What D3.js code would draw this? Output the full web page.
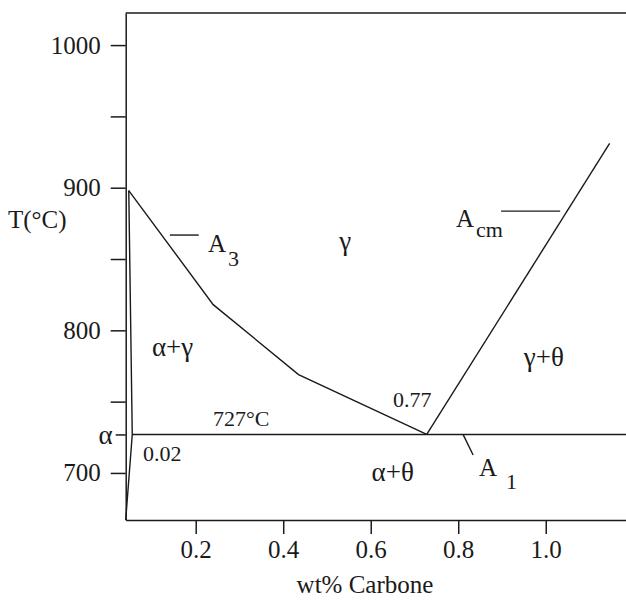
<!DOCTYPE html>
<html>
<head>
<meta charset="utf-8">
<script src="https://cdn.jsdelivr.net/npm/d3@7"></script>
<style>
  body { margin: 0; background: #fff; }
  text { font-family: "Liberation Serif", "Times New Roman", serif; fill: #1a1a1a; }
</style>
</head>
<body>
<div id="chart"></div>
<script>
// Fe-C diagram (steel corner)
var carbonRange = [0.04, 1.22];
var tempRange = [667, 1022.5];
var xTicks = [0.2, 0.4, 0.6, 0.8, 1.0];
var yTicks = [700, 750, 800, 850, 900, 950, 1000];
var yTickLabels = { 700: "700", 800: "800", 900: "900", 1000: "1000" };

var a3Carbon = [0.047, 0.24, 0.435, 0.728];
var a3Temp = [898, 818, 769, 727];
var acmCarbon = [0.728, 1.146];
var acmTemp = [727, 931];
var alphaCarbon = [0.047, 0.055, 0.04];
var alphaTemp = [898, 727, 667];
var eutectoidCarbon = [0.055, 1.22];
var eutectoidTemp = [727, 727];

// phase labels: [text, carbon, temp]
var phaseLabels = [
  ["γ", 0.528, 856],
  ["α+γ", 0.1, 782],
  ["727°C", 0.2395, 733],
  ["0.77", 0.651, 746],
  ["0.02", 0.0795, 708.4],
  ["γ+θ", 0.95, 775],
  ["α+θ", 0.602, 694.4]
];
// critical lines: [main, sub, carbon, temp, pointer from/to]
var critLabels = [
  { main: "A", sub: "3", c: 0.228, t: 855, dx: 2, dy: 14, p: [[0.141, 866.8], [0.207, 866.8]] },
  { main: "A", sub: "cm", c: 0.795, t: 872.4, dx: 2, dy: 10, p: [[0.898, 883.6], [1.033, 883.6]] },
  { main: "A", sub: "1", c: 0.8475, t: 698, dx: 9, dy: 13, p: [[0.811, 727], [0.834, 712.6]] }
];

var width = 626, height = 600;

var svg = d3.select("#chart")
  .append("svg")
  .attr("width", width)
  .attr("height", height);

var x = d3.scaleLinear()
  .domain(carbonRange)
  .range([125.7, 642]);

var y = d3.scaleLinear()
  .domain(tempRange)
  .range([520, 13]);

var ink = "#1a1a1a";

// axes
var xAxis = svg.append("g")
  .attr("transform", "translate(0," + y(tempRange[0]) + ")")
  .call(d3.axisBottom(x).tickValues(xTicks).tickFormat(d3.format(".1f"))
    .tickSize(14).tickSizeOuter(0).tickPadding(6));

var yAxis = svg.append("g")
  .attr("transform", "translate(" + x(carbonRange[0]) + ",0)")
  .call(d3.axisLeft(y).tickValues(yTicks)
    .tickFormat(function(d) { return yTickLabels[d] || ""; })
    .tickSize(15).tickSizeOuter(0).tickPadding(10));

// the alpha tick at the eutectoid temperature
var alphaAxis = svg.append("g")
  .attr("transform", "translate(" + x(carbonRange[0]) + ",0)")
  .call(d3.axisLeft(y).tickValues([727]).tickFormat(function() { return "α"; })
    .tickSize(10).tickPadding(3));
alphaAxis.select(".domain").remove();

svg.selectAll(".domain, .tick line")
  .attr("stroke", ink)
  .attr("stroke-width", 1.5);
svg.selectAll(".tick text")
  .attr("font-family", "Liberation Serif, Times New Roman, serif")
  .attr("font-size", 25)
  .attr("fill", ink);
alphaAxis.selectAll("text").attr("font-size", 27);

// top border
svg.append("line")
  .attr("x1", x(carbonRange[0])).attr("x2", x(carbonRange[1]))
  .attr("y1", y(tempRange[1])).attr("y2", y(tempRange[1]))
  .attr("stroke", ink).attr("stroke-width", 1.5);

// phase boundaries
var line = d3.line()
  .x(function(d) { return x(d[0]); })
  .y(function(d) { return y(d[1]); });

var curves = [
  d3.zip(a3Carbon, a3Temp),
  d3.zip(acmCarbon, acmTemp),
  d3.zip(alphaCarbon, alphaTemp),
  d3.zip(eutectoidCarbon, eutectoidTemp)
];

svg.selectAll(".boundary")
  .data(curves)
  .enter().append("path")
  .attr("class", "boundary")
  .attr("d", line)
  .attr("fill", "none")
  .attr("stroke", ink)
  .attr("stroke-width", 1.4);

// region labels
svg.selectAll(".phase")
  .data(phaseLabels)
  .enter().append("text")
  .attr("class", "phase")
  .attr("x", function(d) { return x(d[1]); })
  .attr("y", function(d) { return y(d[2]); })
  .attr("font-size", function(d) { return /\d/.test(d[0]) ? 22 : 27; })
  .text(function(d) { return d[0]; });

// A3, Acm, A1 with their pointers
critLabels.forEach(function(d) {
  svg.append("path")
    .attr("d", line(d.p))
    .attr("stroke", ink)
    .attr("stroke-width", 1.4);

  var t = svg.append("text")
    .attr("x", x(d.c))
    .attr("y", y(d.t))
    .attr("font-size", 25)
    .text(d.main);
  t.append("tspan")
    .attr("dx", d.dx)
    .attr("dy", d.dy)
    .attr("font-size", 22)
    .text(d.sub);
});

// axis titles
svg.append("text")
  .attr("x", 8)
  .attr("y", 228)
  .attr("font-size", 25)
  .text("T(°C)");

svg.append("text")
  .attr("x", 365)
  .attr("y", 593)
  .attr("text-anchor", "middle")
  .attr("font-size", 25)
  .text("wt% Carbone");
</script>
</body>
</html>
